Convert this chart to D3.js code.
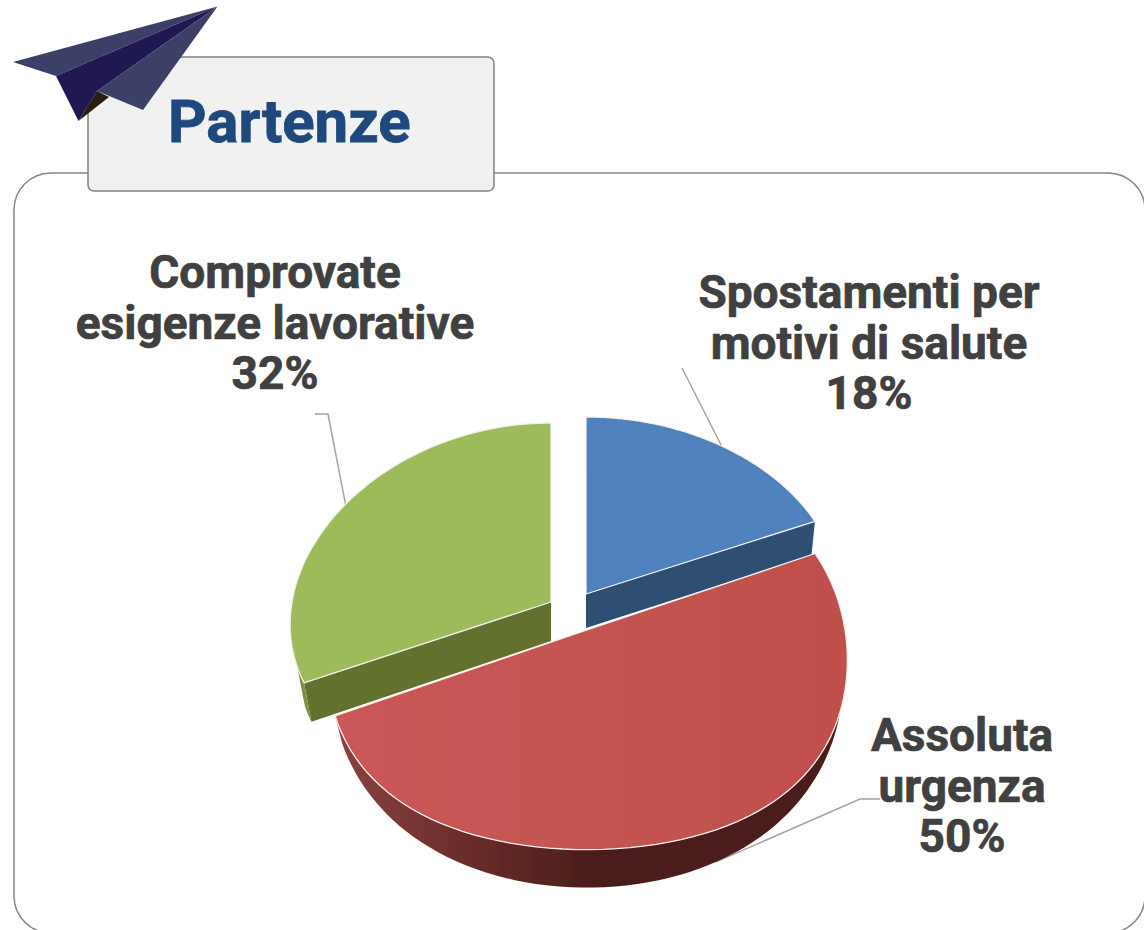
<!DOCTYPE html>
<html>
<head>
<meta charset="utf-8">
<script src="https://cdn.jsdelivr.net/npm/d3@7/dist/d3.min.js"></script>
<style>
  html, body { margin: 0; padding: 0; background: #fff; overflow: hidden; }
  svg { display: block; }
  text { font-family: Roboto, "Open Sans", sans-serif; font-weight: 700; }
</style>
</head>
<body>
<svg id="chart" width="1144" height="930"></svg>
<script>
// chart data
var categories = ['Spostamenti per motivi di salute', 'Assoluta urgenza', 'Comprovate esigenze lavorative'];
var values = [18, 50, 32];
var labelLines = [['Spostamenti per', 'motivi di salute'], ['Assoluta', 'urgenza'], ['Comprovate', 'esigenze lavorative']];
var title = 'Partenze';

// look of each slice, the pie is exploded and seen in perspective so every slice has its own apex
var views = [
    {x: 586, y: 594, rx: 253, ry: 166.4, kx: 0, kq: 0, ky: -0.06, shrink: 0.985, d0: 34, d1: 0, top: '#4f81bd', wall: '#2f5071'},
    {x: 587, y: 630, rx: 258, ry: 190, kx: 0.114, kq: -0.136, ky: 0.135, shrink: 0.985, d0: 20, d1: 18, top: 'url(#redTop)', wall: 'url(#redSide)'},
    {x: 551, y: 602, rx: 259, ry: 186.5, kx: 0.12, kq: 0, ky: 0.042, shrink: 0.97, d0: 39, d1: 0, top: '#9ebb5c', wall: '#62722f'}
];
// where the label sits and how its leader line bends
var labelPos = [
    {x: 869, y: 308, leader: [[682, 368]]},
    {x: 962, y: 751, leader: [[880, 799], [860, 799]]},
    {x: 275, y: 288, leader: [[315, 414], [328, 414]]}
];
var lineHeight = 50.5;

var svg = d3.select('#chart');
var defs = svg.append('defs');

var redTop = defs.append('linearGradient').attr('id', 'redTop');
redTop.append('stop').attr('offset', '0').attr('stop-color', '#c95857');
redTop.append('stop').attr('offset', '1').attr('stop-color', '#bf4f4c');

var redSide = defs.append('linearGradient').attr('id', 'redSide');
redSide.append('stop').attr('offset', '0').attr('stop-color', '#8a4342');
redSide.append('stop').attr('offset', '0.25').attr('stop-color', '#6a2d2b');
redSide.append('stop').attr('offset', '0.5').attr('stop-color', '#4b1d1b');
redSide.append('stop').attr('offset', '1').attr('stop-color', '#4b1d1b');

defs.append('filter').attr('id', 'soft').append('feGaussianBlur').attr('stdDeviation', 0.5);

// frame
svg.append('rect')
    .attr('x', 14).attr('y', 173)
    .attr('width', 1131).attr('height', 760)
    .attr('rx', 37).attr('ry', 37)
    .attr('fill', '#fff').attr('stroke', '#868686').attr('stroke-width', 1.5);

// title box
svg.append('rect')
    .attr('x', 88).attr('y', 57)
    .attr('width', 406).attr('height', 134)
    .attr('rx', 6).attr('ry', 6)
    .attr('fill', '#f1f1f1').attr('stroke', '#808080').attr('stroke-width', 1.5);

svg.append('text')
    .attr('transform', 'translate(168,142)')
    .attr('font-size', 60)
    .attr('fill', '#1f497d')
    .attr('stroke', '#1f497d').attr('stroke-width', 0.8)
    .text(title);

// paper plane
var plane = [
    {fill: '#3c4066', pts: [[217.5, 6.5], [13, 62], [56, 76]]},
    {fill: '#1f1853', pts: [[217.5, 6.5], [56, 76], [78.5, 121], [97, 91]]},
    {fill: '#2a1c12', pts: [[97, 91], [78.5, 121], [109, 97]]},
    {fill: '#3c4066', pts: [[217.5, 6.5], [97, 91], [143, 110]]}
];
svg.selectAll('polygon.plane').data(plane).enter().append('polygon')
    .attr('class', 'plane')
    .attr('points', function(d) { return d.pts.join(' '); })
    .attr('fill', function(d) { return d.fill; });

// pie, angles come from d3.pie
var slices = d3.pie().sort(null)(values);

// front of the pie is drawn wider than the back
function topPoint(view, angle) {
    var u = Math.sin(angle), v = Math.cos(angle);
    return [view.x + view.rx * u / (1 + view.kx * v + view.kq * v * v), view.y - view.ry * v / (1 + view.ky * v)];
}

// lower rim is a bit narrower than the top face
function bottomPoint(view, angle) {
    var u = Math.sin(angle), v = Math.cos(angle);
    return [view.x + view.shrink * view.rx * u / (1 + view.kx * v + 0.5 * view.kq * v * v),
            view.y - view.ry * v / (1 + view.ky * v) + view.d0 - view.d1 * v];
}

function sweep(a0, a1, fn, view) {
    var step = (a1 - a0) / 80;
    return d3.range(0, 81).map(function(i) { return fn(view, a0 + i * step); });
}

var line = d3.line();
var rad = Math.PI / 180;
var pie = svg.append('g').attr('filter', 'url(#soft)');

// leader lines go under the slices
var leaders = svg.insert('g', 'g').attr('fill', 'none').attr('stroke', '#a3a3a3').attr('stroke-width', 1.5);
slices.forEach(function(s, i) {
    var mid = (s.startAngle + s.endAngle) / 2;
    var end = i == 1 ? bottomPoint(views[i], mid) : topPoint(views[i], mid);
    leaders.append('path').attr('d', line(labelPos[i].leader.concat([end])));
});

// back walls first
function wallPath(view, angle) {
    return line([[view.x, view.y], topPoint(view, angle), bottomPoint(view, angle), [view.x, view.y + view.d0]]) + 'Z';
}
pie.append('path').attr('d', wallPath(views[0], slices[0].endAngle)).attr('fill', views[0].wall);
pie.append('path').attr('d', wallPath(views[2], slices[2].startAngle)).attr('fill', views[2].wall);

// little piece of the green rim
pie.append('path')
    .attr('d', line(sweep(slices[2].startAngle, slices[2].startAngle + 5.2 * rad, topPoint, views[2])
        .concat(sweep(slices[2].startAngle, slices[2].startAngle + 5.2 * rad, bottomPoint, views[2]).reverse())) + 'Z')
    .attr('fill', '#7c8f42');

// red rim
pie.append('path')
    .attr('d', line(sweep(80 * rad, slices[1].endAngle, topPoint, views[1])
        .concat(sweep(80 * rad, slices[1].endAngle, bottomPoint, views[1]).reverse())) + 'Z')
    .attr('fill', views[1].wall);

// top faces
[0, 2, 1].forEach(function(i) {
    var pts = [[views[i].x, views[i].y]].concat(sweep(slices[i].startAngle, slices[i].endAngle, topPoint, views[i]));
    pie.append('path')
        .attr('d', line(pts) + 'Z')
        .attr('fill', views[i].top)
        .attr('stroke', '#f4f0ee').attr('stroke-width', 1.3).attr('stroke-linejoin', 'round');
});

// labels
var fmt = d3.format('.0%');
var total = d3.sum(values);
slices.forEach(function(s, i) {
    var lines = labelLines[i].concat([fmt(s.value / total)]);
    svg.selectAll(null).data(lines).enter().append('text')
        .attr('transform', function(d, j) {
            return 'translate(' + labelPos[i].x + ',' + (labelPos[i].y + j * lineHeight) + ')';
        })
        .attr('text-anchor', 'middle')
        .attr('font-size', 46)
        .attr('fill', '#404040')
        .attr('stroke', '#404040').attr('stroke-width', 0.7)
        .text(function(d) { return d; });
});
</script>
</body>
</html>
